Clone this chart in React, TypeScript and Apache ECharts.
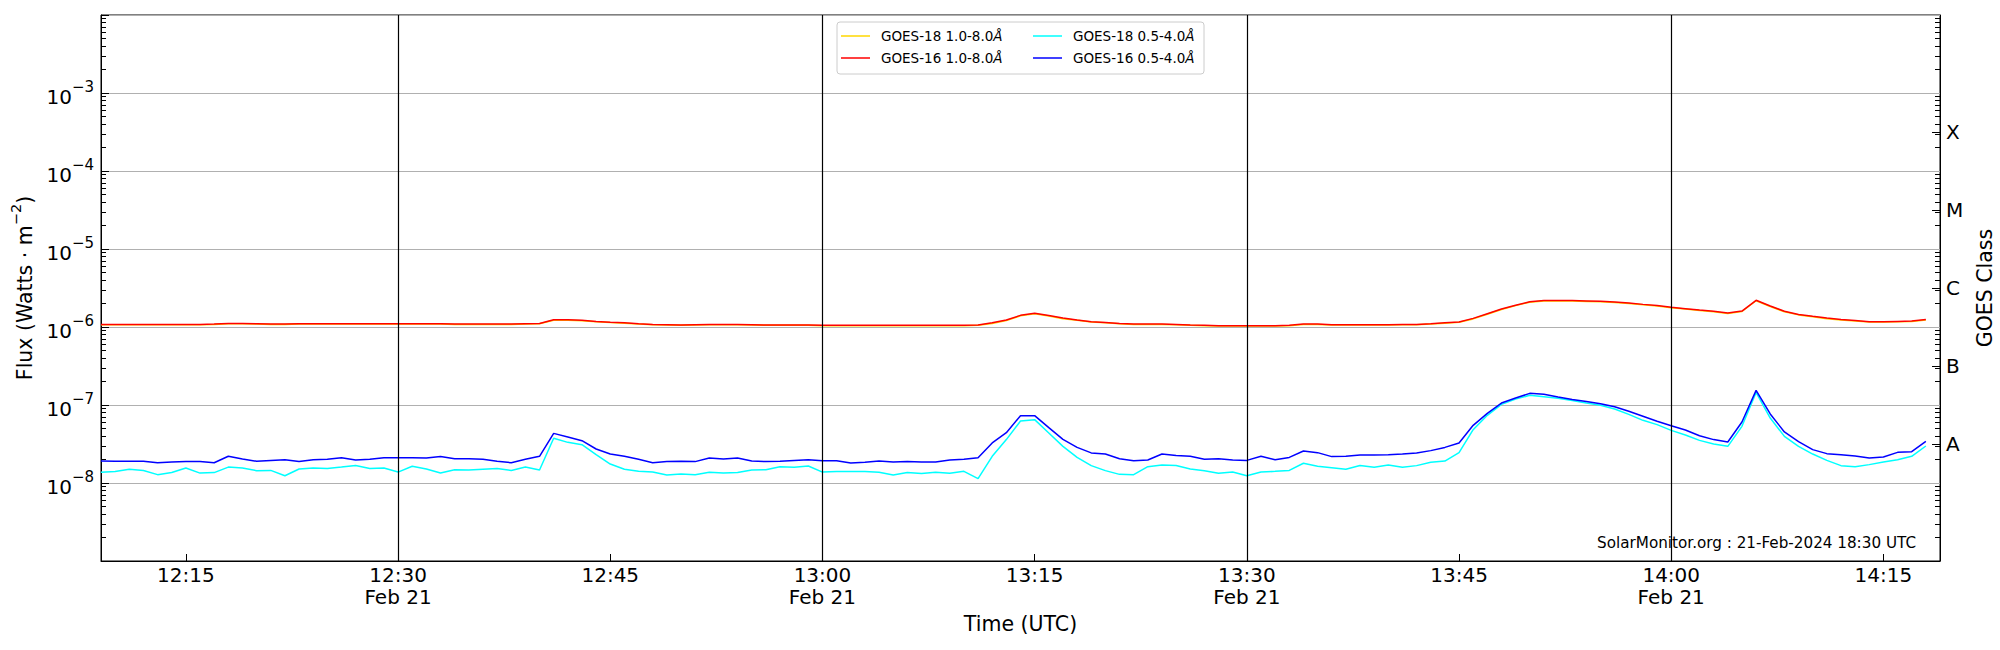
import React, { useEffect, useRef } from 'react';
import * as echarts from 'echarts';

// ---- time axis (minutes after 12:00 UTC, 21 Feb 2024) ----
const START_MINUTE = 9; // first sample 12:09 UTC
const CADENCE_MIN = 1; // 1-minute cadence
const X_MIN = 9;
const X_MAX = 139;
const TICK_MINUTES = [15, 30, 45, 60, 75, 90, 105, 120, 135];
const DATE_MARK_MINUTES = [30, 60, 90, 120];
const DATE_LABEL = 'Feb 21';

// ---- flux axis ----
const Y_MIN = 1e-9;
const Y_MAX = 1e-2;
const HIDDEN_EXPONENTS = [-9, -2];
const CLASS_LABELS = ['A', 'B', 'C', 'M', 'X'];
const CLASS_EXPONENTS = [-7.5, -6.5, -5.5, -4.5, -3.5];

const NAME_G18_LONG = 'GOES-18 1.0-8.0Å';
const NAME_G16_LONG = 'GOES-16 1.0-8.0Å';
const NAME_G18_SHORT = 'GOES-18 0.5-4.0Å';
const NAME_G16_SHORT = 'GOES-16 0.5-4.0Å';

// GOES-18 1.0-8.0 Å (units of 1e-6 W m^-2)
const G18_LONG_E6 = [
  1.07, 1.07, 1.07, 1.07, 1.07, 1.07, 1.07, 1.07, 1.08, 1.10, 1.10, 1.09, 1.08, 1.08, 1.09, 1.09, 1.09, 1.09, 1.09, 1.09, 1.09, 1.09, 1.09, 1.09, 1.09, 1.08,
  1.08, 1.08, 1.08, 1.08, 1.09, 1.10, 1.22, 1.22, 1.20, 1.17, 1.14, 1.12, 1.09, 1.07, 1.06, 1.05, 1.06, 1.07, 1.07, 1.07, 1.06, 1.05, 1.05, 1.05, 1.05, 1.04,
  1.04, 1.04, 1.04, 1.04, 1.04, 1.04, 1.04, 1.04, 1.04, 1.04, 1.05, 1.11, 1.21, 1.39, 1.48, 1.38, 1.28, 1.22, 1.16, 1.13, 1.10, 1.08, 1.08, 1.08, 1.07,
  1.05, 1.04, 1.03, 1.03, 1.03, 1.03, 1.03, 1.04, 1.08, 1.08, 1.06, 1.06, 1.06, 1.06, 1.06, 1.07, 1.07, 1.09, 1.12, 1.15, 1.27, 1.46, 1.68, 1.88, 2.08, 2.15,
  2.15, 2.15, 2.13, 2.11, 2.06, 2.00, 1.93, 1.86, 1.77, 1.70, 1.63, 1.57, 1.49, 1.58, 2.17, 1.83, 1.57, 1.43, 1.35, 1.28, 1.23, 1.19, 1.16, 1.16, 1.17, 1.18, 1.23,
];

// GOES-16 1.0-8.0 Å (units of 1e-6 W m^-2)
const G16_LONG_E6 = [
  1.08, 1.08, 1.08, 1.08, 1.08, 1.08, 1.08, 1.08, 1.09, 1.11, 1.11, 1.10, 1.09, 1.09, 1.10, 1.10, 1.10, 1.10, 1.10, 1.10, 1.10, 1.10, 1.10, 1.10, 1.10, 1.09,
  1.09, 1.09, 1.09, 1.09, 1.10, 1.11, 1.24, 1.24, 1.22, 1.18, 1.15, 1.13, 1.10, 1.08, 1.07, 1.06, 1.07, 1.08, 1.08, 1.08, 1.07, 1.06, 1.06, 1.06, 1.06, 1.05,
  1.05, 1.05, 1.05, 1.05, 1.05, 1.05, 1.05, 1.05, 1.05, 1.05, 1.06, 1.13, 1.23, 1.41, 1.50, 1.40, 1.30, 1.23, 1.17, 1.14, 1.11, 1.09, 1.09, 1.09, 1.08,
  1.06, 1.05, 1.04, 1.04, 1.04, 1.04, 1.04, 1.05, 1.09, 1.09, 1.07, 1.07, 1.07, 1.07, 1.07, 1.08, 1.08, 1.10, 1.13, 1.16, 1.29, 1.48, 1.70, 1.90, 2.11, 2.18,
  2.18, 2.18, 2.16, 2.14, 2.09, 2.03, 1.95, 1.88, 1.79, 1.72, 1.65, 1.59, 1.51, 1.60, 2.20, 1.86, 1.59, 1.45, 1.37, 1.30, 1.25, 1.21, 1.17, 1.17, 1.18, 1.19, 1.25,
];

// GOES-18 0.5-4.0 Å (units of 1e-8 W m^-2)
const G18_SHORT_E8 = [
  1.37, 1.40, 1.50, 1.45, 1.28, 1.36, 1.56, 1.34, 1.36, 1.60, 1.56, 1.44, 1.45, 1.24, 1.51, 1.56, 1.53, 1.60, 1.68, 1.53, 1.56, 1.38, 1.64, 1.51, 1.34, 1.48,
  1.47, 1.50, 1.53, 1.45, 1.60, 1.47, 3.74, 3.32, 3.10, 2.31, 1.75, 1.50, 1.41, 1.38, 1.27, 1.30, 1.28, 1.37, 1.34, 1.36, 1.47, 1.48, 1.62, 1.59, 1.65, 1.38,
  1.40, 1.40, 1.40, 1.37, 1.27, 1.36, 1.32, 1.37, 1.33, 1.41, 1.14, 2.20, 3.60, 6.24, 6.49, 4.38, 2.95, 2.13, 1.67, 1.44, 1.29, 1.28, 1.62, 1.70, 1.68,
  1.51, 1.44, 1.33, 1.38, 1.24, 1.38, 1.41, 1.45, 1.79, 1.64, 1.57, 1.50, 1.68, 1.59, 1.70, 1.59, 1.67, 1.84, 1.91, 2.45, 4.83, 7.38, 10.2, 11.9, 13.3, 12.8,
  12.2, 11.4, 10.6, 9.90, 8.89, 7.59, 6.36, 5.60, 4.73, 4.13, 3.52, 3.16, 2.95, 5.33, 14.5, 6.81, 3.96, 2.95, 2.35, 1.95, 1.67, 1.62, 1.72, 1.86, 1.99, 2.20, 2.98,
];

// GOES-16 0.5-4.0 Å (units of 1e-8 W m^-2)
const G16_SHORT_E8 = [
  1.91, 1.90, 1.90, 1.90, 1.82, 1.86, 1.88, 1.88, 1.82, 2.20, 2.03, 1.90, 1.95, 1.99, 1.88, 1.99, 2.01, 2.11, 1.97, 2.01, 2.11, 2.11, 2.11, 2.09, 2.18, 2.05,
  2.05, 2.01, 1.90, 1.82, 2.01, 2.20, 4.33, 3.89, 3.49, 2.73, 2.35, 2.20, 2.01, 1.82, 1.88, 1.90, 1.88, 2.09, 2.03, 2.09, 1.91, 1.88, 1.90, 1.95, 1.99, 1.93,
  1.93, 1.80, 1.84, 1.91, 1.86, 1.88, 1.86, 1.86, 1.97, 2.01, 2.11, 3.26, 4.42, 7.30, 7.30, 5.12, 3.63, 2.86, 2.43, 2.35, 2.05, 1.93, 1.97, 2.35, 2.26,
  2.20, 2.01, 2.05, 1.97, 1.95, 2.20, 1.99, 2.13, 2.57, 2.45, 2.18, 2.20, 2.29, 2.29, 2.31, 2.35, 2.43, 2.60, 2.86, 3.26, 5.49, 7.82, 10.6, 12.3, 14.1, 13.7,
  12.7, 11.8, 11.1, 10.4, 9.52, 8.30, 7.16, 6.18, 5.43, 4.78, 4.04, 3.60, 3.36, 6.05, 15.4, 7.67, 4.51, 3.39, 2.68, 2.38, 2.31, 2.22, 2.09, 2.15, 2.47, 2.52, 3.42,
];

const FOOTER_TEXT = 'SolarMonitor.org : 21-Feb-2024 18:30 UTC';

const FONT = '"DejaVu Sans", "Liberation Sans", sans-serif';
const TICK_FS = 20;
const TITLE_FS = 20.5;

function toSeries(values: number[], unit: number) {
  return values.map((v, i) => [START_MINUTE + i * CADENCE_MIN, v * unit]);
}

function fmtTime(v: number) {
  const m = Math.round(v);
  const h = 12 + Math.floor(m / 60);
  const mm = m % 60;
  const s = `${h}:${mm < 10 ? '0' + mm : mm}`;
  return DATE_MARK_MINUTES.indexOf(m) >= 0 ? `${s}\n${DATE_LABEL}` : s;
}

function fmtPow(v: number) {
  const e = Math.round(Math.log10(v));
  if (HIDDEN_EXPONENTS.indexOf(e) >= 0) return '';
  return `{b|10}{s|\u2212${-e}}`;
}

function fmtClass(v: number) {
  const lv = Math.log10(v);
  let best = 0;
  for (let i = 1; i < CLASS_EXPONENTS.length; i++) {
    if (Math.abs(CLASS_EXPONENTS[i] - lv) < Math.abs(CLASS_EXPONENTS[best] - lv)) best = i;
  }
  return CLASS_LABELS[best];
}

const legendFmt = (name: string) => `{n|${name.replace('Å', '')}}{i|Å}`;

export default function App() {
  const ref = useRef<HTMLDivElement>(null);
  useEffect(() => {
    if (!ref.current) return;
    const chart = echarts.init(ref.current, null, { renderer: 'svg' });
    const classValues = CLASS_EXPONENTS.map((e) => Math.pow(10, e));
    const legendText = {
      fontSize: 13.5,
      fontFamily: FONT,
      color: '#000',
      padding: [0, 0, 0, 6],
      rich: {
        n: { fontSize: 13.5, fontFamily: FONT, color: '#000' },
        i: { fontSize: 13.5, fontFamily: FONT, color: '#000', fontStyle: 'italic' },
      },
    };
    const lineSeries = (name: string, color: string, data: number[][], extra: any = {}) => ({
      name,
      type: 'line',
      data,
      showSymbol: false,
      symbol: 'none',
      lineStyle: { color, width: 1.5 },
      itemStyle: { color },
      emphasis: { disabled: true },
      ...extra,
    });
    const option: any = {
      animation: false,
      backgroundColor: '#fff',
      textStyle: { fontFamily: FONT, color: '#000' },
      grid: {
        left: 101,
        right: 60,
        top: 15,
        bottom: 89,
        show: true,
        borderColor: '#000',
        borderWidth: 1,
        containLabel: false,
        outerBoundsMode: 'none',
      },
      legend: [
        {
          left: 841,
          top: 29,
          orient: 'vertical',
          padding: 0,
          itemGap: 8,
          itemWidth: 29,
          itemHeight: 1.5,
          icon: 'rect',
          data: [NAME_G18_LONG, NAME_G16_LONG],
          formatter: legendFmt,
          textStyle: legendText,
          selectedMode: false,
        },
        {
          left: 1033,
          top: 29,
          orient: 'vertical',
          padding: 0,
          itemGap: 8,
          itemWidth: 29,
          itemHeight: 1.5,
          icon: 'rect',
          data: [NAME_G18_SHORT, NAME_G16_SHORT],
          formatter: legendFmt,
          textStyle: legendText,
          selectedMode: false,
        },
      ],
      xAxis: {
        type: 'value',
        min: X_MIN,
        max: X_MAX,
        name: 'Time (UTC)',
        nameLocation: 'middle',
        nameGap: 52,
        nameTextStyle: { fontSize: TITLE_FS, fontFamily: FONT, color: '#000' },
        axisLine: { show: true, onZero: false, lineStyle: { color: '#000', width: 1 } },
        axisTick: { show: true, inside: true, length: 7, customValues: TICK_MINUTES, lineStyle: { color: '#000', width: 1 } },
        axisLabel: {
          customValues: TICK_MINUTES,
          formatter: fmtTime,
          fontSize: TICK_FS,
          lineHeight: 22,
          margin: 3,
          color: '#000',
          fontFamily: FONT,
        },
        splitLine: { show: false },
      },
      yAxis: [
        {
          type: 'log',
          min: Y_MIN,
          max: Y_MAX,
          logBase: 10,
          position: 'left',
          name: '{b|Flux (Watts · m}{s|\u22122}{b|)}',
          nameLocation: 'middle',
          nameRotate: 90,
          nameGap: 65,
          nameTextStyle: {
            fontSize: TITLE_FS,
            fontFamily: FONT,
            color: '#000',
            rich: {
              b: { fontSize: TITLE_FS, fontFamily: FONT, color: '#000', lineHeight: 27, verticalAlign: 'bottom' },
              s: { fontSize: 14.5, fontFamily: FONT, color: '#000', lineHeight: 14, verticalAlign: 'top' },
            },
          },
          axisLine: { show: true, lineStyle: { color: '#000', width: 1 } },
          axisTick: { show: true, inside: true, length: 8, lineStyle: { color: '#000', width: 1 } },
          minorTick: { show: true, splitNumber: 9, length: 5, lineStyle: { color: '#000', width: 1 } },
          axisLabel: {
            formatter: fmtPow,
            margin: 7,
            color: '#000',
            fontFamily: FONT,
            rich: {
              b: { fontSize: TICK_FS, fontFamily: FONT, color: '#000', lineHeight: 27, verticalAlign: 'bottom' },
              s: { fontSize: 15, fontFamily: FONT, color: '#000', lineHeight: 15, verticalAlign: 'top' },
            },
          },
          splitLine: { show: true, lineStyle: { color: '#b0b0b0', width: 1 } },
          minorSplitLine: { show: false },
        },
        {
          type: 'log',
          min: Y_MIN,
          max: Y_MAX,
          logBase: 10,
          position: 'right',
          name: 'GOES Class',
          nameLocation: 'middle',
          nameRotate: 90,
          nameGap: 25,
          nameTextStyle: { fontSize: TITLE_FS, fontFamily: FONT, color: '#000' },
          axisLine: { show: true, lineStyle: { color: '#000', width: 1 } },
          axisTick: { show: true, inside: true, length: 8, customValues: classValues, lineStyle: { color: '#000', width: 1 } },
          minorTick: { show: true, splitNumber: 9, length: 5, lineStyle: { color: '#000', width: 1 } },
          axisLabel: {
            customValues: classValues,
            formatter: fmtClass,
            fontSize: TICK_FS,
            margin: 6,
            color: '#000',
            fontFamily: FONT,
          },
          splitLine: { show: false },
        },
      ],
      graphic: [
        {
          type: 'rect',
          z: 1,
          shape: { x: 837, y: 22, width: 367, height: 52, r: 3 },
          style: { fill: 'rgba(255,255,255,0.8)', stroke: '#cccccc', lineWidth: 1 },
          silent: true,
        },
        {
          type: 'text',
          z: 10,
          x: 1916,
          y: 543,
          style: {
            text: FOOTER_TEXT,
            fontSize: 15.2,
            fontFamily: FONT,
            fill: '#000',
            textAlign: 'right',
            textVerticalAlign: 'middle',
            align: 'right',
            verticalAlign: 'middle',
          },
          silent: true,
        },
      ],
      series: [
        lineSeries(NAME_G18_LONG, '#ffd700', toSeries(G18_LONG_E6, 1e-6)),
        lineSeries(NAME_G16_LONG, '#ff0000', toSeries(G16_LONG_E6, 1e-6)),
        lineSeries(NAME_G18_SHORT, '#00ffff', toSeries(G18_SHORT_E8, 1e-8)),
        lineSeries(NAME_G16_SHORT, '#0000ff', toSeries(G16_SHORT_E8, 1e-8), {
          markLine: {
            silent: true,
            symbol: 'none',
            label: { show: false },
            emphasis: { disabled: true },
            lineStyle: { color: '#000', width: 1.2, type: 'solid' },
            data: DATE_MARK_MINUTES.map((m) => ({ xAxis: m })),
          },
        }),
      ],
    };
    chart.setOption(option);
    return () => chart.dispose();
  }, []);
  return <div ref={ref} style={{ position: 'absolute', left: 0, top: 0, width: 2000, height: 650 }} />;
}
